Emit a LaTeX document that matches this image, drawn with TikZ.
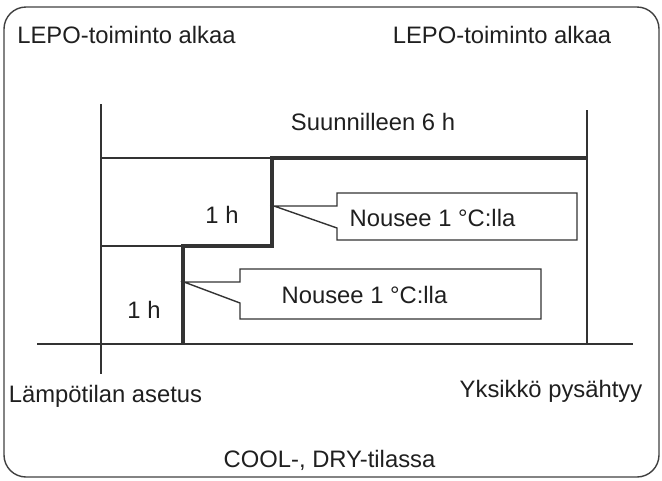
\documentclass[tikz,border=0pt]{standalone}
\usepackage{fontspec}
\setmainfont{Liberation Sans}
\begin{document}
\begin{tikzpicture}[x=1pt,y=-1pt,
  ln/.style={line width=1.4pt, draw=black!80},
  lnthick/.style={line width=3.2pt, draw=black!80, line join=miter},
  frame/.style={line width=1.4pt, draw=black!75, rounded corners=22pt},
  lbl/.style={font=\fontsize{23.8}{28}\selectfont, text=black!88, inner sep=0pt, anchor=base}]
\useasboundingbox (0,0) rectangle (662,480);
\draw[frame] (4,7) rectangle (659,477);
% texts
\node[lbl] (lepoA) at (126.5,43) {LEPO-toiminto alkaa};
\node[lbl] (lepoB) at (502,43) {LEPO-toiminto alkaa};
\node[lbl] (suun) at (373,130) {Suunnilleen 6 h};
\node[lbl] (hA) at (222,223) {1 h};
\node[lbl] (hB) at (144,318) {1 h};
\node[lbl] (nousA) at (432.5,226) {Nousee 1 °C:lla};
\node[lbl] (nousB) at (364.5,303) {Nousee 1 °C:lla};
\node[lbl] (lampo) at (105.5,402) {Lämpötilan asetus};
\node[lbl] (yks) at (551,397) {Yksikkö pysähtyy};
\node[lbl] (cool) at (329.5,467) {COOL-, DRY-tilassa};
% coordinates
\coordinate (vlTop) at (101,104);
\coordinate (vlBot) at (101,374);
\coordinate (vrTop) at (587,110);
\coordinate (vrBot) at (587,344);
\coordinate (axL) at (37,344);
\coordinate (axR) at (633,344);
\coordinate (s0) at (183,344);
\coordinate (s1) at (183,246);
\coordinate (s2) at (272,246);
\coordinate (s3) at (272,158);
\coordinate (s4) at (587,158);
\draw[ln] (vlTop) -- (vlBot);
\draw[ln] (vrTop) -- (vrBot);
\draw[ln] (axL) -- (axR);
\draw[ln] (vlTop |- s3) -- (s3);
\draw[ln] (vlTop |- s1) -- (s1);
\draw[lnthick] (s0) -- (s1) -- (s2) -- (s3) -- (s4);
% callouts
\draw[ln, line join=miter] (274,206) -- (337,206) -- (337,193) -- (577,193) -- (577,240) -- (337,240) -- (337,228) -- cycle;
\draw[ln, line join=miter] (184,282) -- (240,282) -- (240,269) -- (541,269) -- (541,319) -- (240,319) -- (240,303) -- cycle;
\end{tikzpicture}
\end{document}
